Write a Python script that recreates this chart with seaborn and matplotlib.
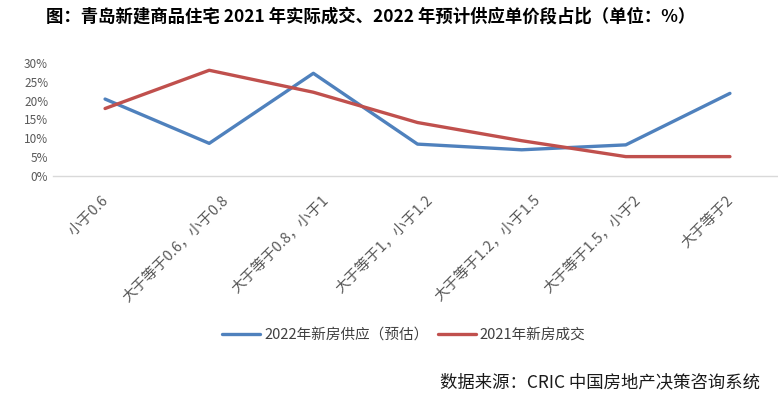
import pandas as pd
import matplotlib.pyplot as plt
import seaborn as sns
from matplotlib.ticker import PercentFormatter
from matplotlib.transforms import ScaledTranslation

# data
categories = ["小于0.6", "大于等于0.6，小于0.8", "大于等于0.8，小于1",
              "大于等于1，小于1.2", "大于等于1.2，小于1.5", "大于等于1.5，小于2",
              "大于等于2"]
supply_2022 = [0.204, 0.087, 0.272, 0.085, 0.070, 0.083, 0.219]
deal_2021 = [0.179, 0.280, 0.222, 0.142, 0.094, 0.052, 0.052]
series_names = ["2022年新房供应（预估）", "2021年新房成交"]
colors = ["#4F81BD", "#C0504D"]

df = pd.DataFrame({
    "区间": categories * 2,
    "占比": supply_2022 + deal_2021,
    "系列": [series_names[0]] * 7 + [series_names[1]] * 7,
})

sns.set_style("white")
plt.rcParams['font.family'] = ['Noto Sans CJK SC', 'DejaVu Sans']

fig = plt.figure(figsize=(7.78, 3.94), dpi=100)
ax = fig.add_axes([53 / 778, 1 - 176.3 / 394, 729 / 778, 113.6 / 394])

sns.lineplot(data=df, x="区间", y="占比", hue="系列", palette=colors,
             linewidth=2.4, sort=False, ax=ax, legend=False)

ax.set_xlim(-0.5, 6.5)
ax.set_ylim(0, 0.30)
ax.set_yticks([0, 0.05, 0.10, 0.15, 0.20, 0.25, 0.30])
ax.yaxis.set_major_formatter(PercentFormatter(1.0, decimals=0))
ax.set_xticks(range(len(categories)))
ax.set_xticklabels(categories, rotation=45, ha="right", rotation_mode="anchor")
ax.tick_params(axis="both", length=0, colors="#595959", labelsize=8.5)
ax.tick_params(axis="x", pad=12, labelsize=10.5)
ax.set_xlabel("")
ax.set_ylabel("")
for s in ["top", "right", "left"]:
    ax.spines[s].set_visible(False)
ax.spines["bottom"].set_color("#D9D9D9")
ax.spines["bottom"].set_linewidth(1)

# longer labels sit a bit further right, like in excel
for lab, txt in zip(ax.get_xticklabels(), categories):
    dx = (2 * (len(txt) - 5) - 4) / 100
    lab.set_transform(lab.get_transform() + ScaledTranslation(dx, 0, fig.dpi_scale_trans))

# legend
handles = [plt.Line2D([], [], color=c, linewidth=2.4) for c in colors]
fig.legend(handles, series_names, loc="center", bbox_to_anchor=(404 / 778, 1 - 335 / 394),
           ncol=2, frameon=False, fontsize=10.5, handlelength=2.6, handletextpad=0.3,
           columnspacing=0.6, labelcolor="#404040")

fig.text(371 / 778, 1 - 17 / 394, "图：青岛新建商品住宅 2021 年实际成交、2022 年预计供应单价段占比（单位：%）",
         ha="center", va="center", fontsize=12.5, fontweight="bold", color="black")
fig.text(760 / 778, 1 - 382 / 394, "数据来源：CRIC 中国房地产决策咨询系统",
         ha="right", va="center", fontsize=12.5, color="#1a1a1a")

fig.savefig("out.png", dpi=100)
